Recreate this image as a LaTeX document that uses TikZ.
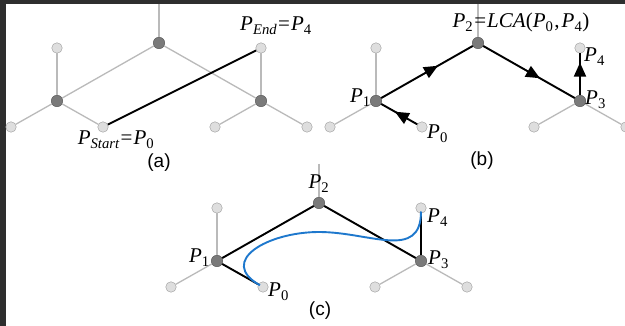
\documentclass[tikz,border=0pt]{standalone}
\usepackage{fontspec}
\setmainfont{Liberation Serif}
\newfontfamily\capfont{Liberation Sans}
\usetikzlibrary{arrows.meta,calc,decorations.markings}

\newcommand{\Pnt}[1]{\textit{P}\textsubscript{#1}}

\begin{document}
\begin{tikzpicture}[x=1pt,y=-1pt,
  leaf/.style={circle,draw=black!40,fill=black!13,inner sep=0pt,minimum size=10.5pt},
  joint/.style={circle,draw=black!68,fill=black!52,inner sep=0pt,minimum size=11.5pt},
  twig/.style={draw=black!27,line width=1.3pt},
  walk/.style={draw=black,line width=1.9pt},
  flow/.style={walk,postaction={decorate},decoration={markings,
    mark=at position #1 with {\arrow{Triangle[length=14pt,width=12pt]}}}},
  flow/.default=0.62,
  lbl/.style={font=\fontsize{21}{24}\selectfont,inner sep=0pt},
  tag/.style={font=\capfont\fontsize{19}{22}\selectfont,inner sep=0pt}]
% frame
\fill[black!82] (0,0) rectangle (625,326);
\fill[white] (6,4) rectangle (625,326);
\useasboundingbox (0,0) rectangle (625,326);
% the same tree in the three panels
\foreach \p/\dx/\dy in {a/0/0,b/319/0,c/160/160}{
  \begin{scope}[shift={(\dx,\dy)}]
    \coordinate (\p t) at (159,4);
    \node[joint] (\p2) at (159,43) {};
    \node[joint] (\p1) at (57,101) {};
    \node[joint] (\p3) at (261,101) {};
    \node[leaf] (\p5) at (57,48) {};
    \node[leaf] (\p4) at (261,48) {};
    \node[leaf] (\p6) at (11,127) {};
    \node[leaf] (\p0) at (103,127) {};
    \node[leaf] (\p7) at (215,127) {};
    \node[leaf] (\p8) at (307,127) {};
  \end{scope}
  \draw[twig] (\p t)--(\p2);
  \draw[twig] (\p2)--(\p1);
  \draw[twig] (\p2)--(\p3);
  \draw[twig] (\p1)--(\p5);
  \draw[twig] (\p1)--(\p6);
  \draw[twig] (\p1)--(\p0);
  \draw[twig] (\p3)--(\p4);
  \draw[twig] (\p3)--(\p7);
  \draw[twig] (\p3)--(\p8);
}
% (a) start and end
\draw[walk] (a0)--(a4);
\node[lbl,anchor=base] (aend) at (276,31) {\Pnt{\itshape End}\kern1pt=\kern1pt\Pnt{4}};
\node[lbl,anchor=base] (astart) at (116,145) {\Pnt{\itshape Start}\kern1pt=\kern1pt\Pnt{0}};
\node[tag] (acap) at (159,163) {(a)};
% (b) path through the LCA
\draw[flow] (b0)--(b1);
\draw[flow] (b1)--(b2);
\draw[flow] (b2)--(b3);
\draw[flow=0.78] (b3)--(b4);
\node[lbl,anchor=base] (blca) at (521,28) {\Pnt{2}\kern1pt=\kern1pt\textit{LCA}(\Pnt{0}\kern1pt,\kern2pt\Pnt{4})};
\node[lbl,anchor=base east] (bp1) at (371,103) {\Pnt{1}};
\node[lbl,anchor=base west] (bp0) at (427,139) {\Pnt{0}};
\node[lbl,anchor=base west] (bp3) at (585,105) {\Pnt{3}};
\node[lbl,anchor=base west] (bp4) at (584,62) {\Pnt{4}};
\node[tag] (bcap) at (482,161) {(b)};
% (c) polygon and spline
\draw[walk] (c0)--(c1);
\draw[walk] (c1)--(c2);
\draw[walk] (c2)--(c3);
\draw[walk] (c3)--(c4);
\coordinate (q2) at ($(c1.center)!0.5!(c2.center)$);
\coordinate (q3) at ($(c2.center)!0.5!(c3.center)$);
\coordinate (n3) at ($(q2)!0.5!(q3)$);
\draw[color={rgb,255:red,30;green,120;blue,205},line width=1.9pt,shorten <=3.5pt,shorten >=3.5pt]
  (c0.center) .. controls (c1.center) and (q2) .. (n3)
  .. controls (q3) and (c3.center) .. (c4.center);
\node[lbl,anchor=base] (cp2) at (319,189) {\Pnt{2}};
\node[lbl,anchor=base east] (cp1) at (210,263) {\Pnt{1}};
\node[lbl,anchor=base west] (cp0) at (268,297) {\Pnt{0}};
\node[lbl,anchor=base west] (cp4) at (427,223) {\Pnt{4}};
\node[lbl,anchor=base west] (cp3) at (428,265) {\Pnt{3}};
\node[tag] (ccap) at (320,311) {(c)};
\end{tikzpicture}
\end{document}
